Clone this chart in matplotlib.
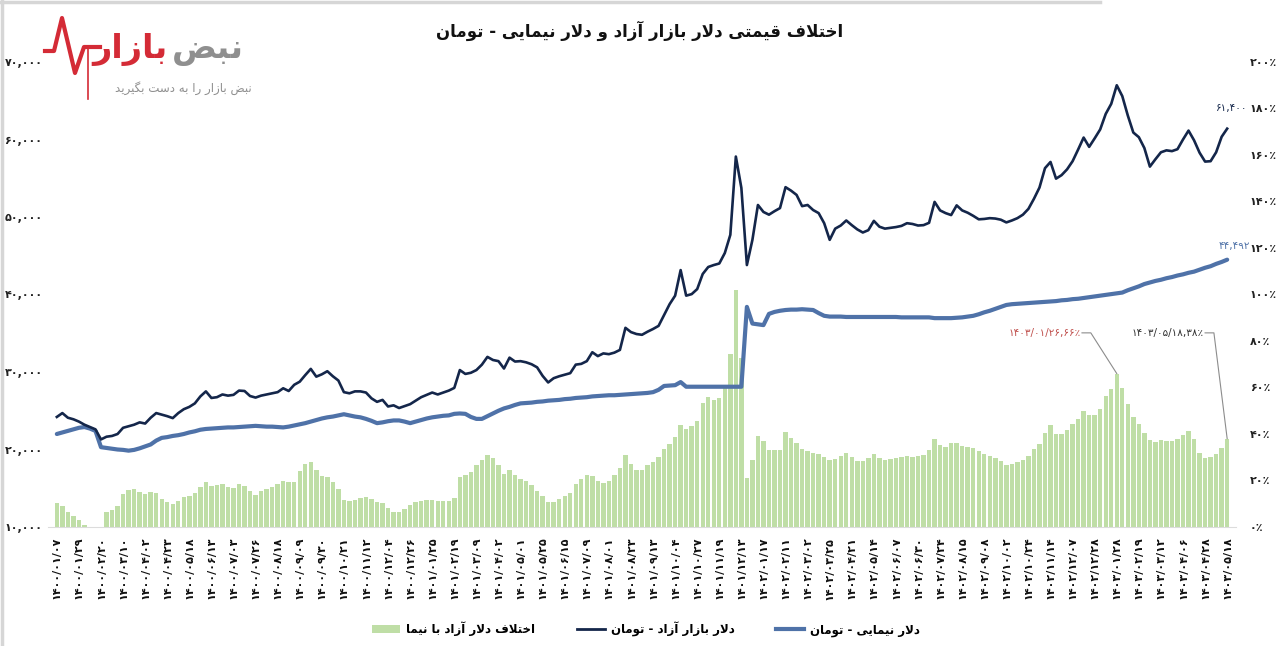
import matplotlib
matplotlib.use("Agg")
import matplotlib.pyplot as plt
import numpy as np
from matplotlib.lines import Line2D
from matplotlib.patches import Patch

# ---- data (toman / percent), one sample every ~1/4 tick ----
free_market = [
    24200, 24700, 24100, 23900, 23600, 23200, 22900, 22600, 21300, 21650,
    21750, 22000, 22800, 23000, 23200, 23500, 23350, 24100, 24700, 24500,
    24300, 24050, 24700, 25200, 25500, 25950, 26850, 27500, 26650, 26750,
    27100, 26950, 27050, 27600, 27550, 26900, 26700, 26950, 27100, 27250,
    27400, 27900, 27550, 28350, 28750, 29600, 30400, 29400, 29700, 30100,
    29450, 28900, 27400, 27250, 27500, 27500, 27350, 26600, 26150, 26400,
    25550, 25700, 25350, 25600, 25850, 26300, 26750, 27050, 27350, 27100,
    27350, 27600, 27950, 30250, 29750, 29900, 30250, 30950, 31950, 31550,
    31400, 30450, 31850, 31350, 31400, 31250, 31000, 30600, 29500, 28650,
    29200, 29450, 29650, 29850, 30950, 31050, 31400, 32550, 32050, 32400,
    32300, 32500, 32850, 35700, 35150, 34900, 34800, 35200, 35550, 35950,
    37350, 38750, 39850, 43150, 39850, 40050, 40700, 42650, 43550, 43800,
    44000, 45350, 47700, 57800, 53750, 43800, 47050, 51550, 50650, 50300,
    50750, 51150, 53850, 53400, 52850, 51400, 51550, 50900, 50500, 49200,
    47050, 48500, 48900, 49550, 48950, 48400, 48000, 48300, 49500, 48750,
    48500, 48600, 48700, 48850, 49200, 49100, 48900, 48950, 49250, 51950,
    50850, 50500, 50250, 51500, 50850, 50550, 50150, 49700, 49750, 49850,
    49800, 49650, 49300, 49550, 49850, 50300, 51050, 52350, 53800, 56300,
    57100, 54950, 55400, 56150, 57200, 58700, 60250, 59050, 60150, 61300,
    63300, 64600, 67000, 65600, 63100, 60900, 60300, 58900, 56500, 57450,
    58350, 58600, 58500, 58750, 60000, 61150, 59900, 58300, 57150, 57200,
    58350, 60350, 61400,
]

nimai = [
    22000, 22200, 22400, 22600, 22800, 22900, 22700, 22400, 20300, 20200,
    20100, 20000, 19950, 19850, 19950, 20150, 20400, 20650, 21150, 21500,
    21600, 21750, 21850, 22000, 22200, 22350, 22550, 22650, 22700, 22750,
    22800, 22850, 22850, 22900, 22950, 23000, 23050, 23000, 22950, 22950,
    22900, 22850, 22950, 23100, 23250, 23400, 23600, 23800, 24000, 24150,
    24250, 24400, 24550, 24400, 24250, 24150, 23950, 23700, 23400, 23500,
    23650, 23750, 23750, 23600, 23400, 23600, 23800, 24000, 24150, 24250,
    24350, 24400, 24600, 24650, 24600, 24200, 23950, 23950, 24300, 24650,
    25000, 25300, 25500, 25750, 25950, 26000, 26050, 26150, 26200, 26300,
    26350, 26400, 26500, 26550, 26650, 26700, 26750, 26850, 26900, 26950,
    27000, 27000, 27050, 27100, 27150, 27200, 27250, 27300, 27400, 27700,
    28200, 28250, 28300, 28700, 28100, 28100, 28100, 28100, 28100, 28100,
    28100, 28100, 28100, 28100, 28100, 38400, 36250, 36150, 36050, 37500,
    37750, 37900, 38000, 38050, 38050, 38100, 38050, 38000, 37600, 37250,
    37150, 37150, 37150, 37100, 37100, 37100, 37100, 37100, 37100, 37100,
    37100, 37100, 37100, 37050, 37050, 37050, 37050, 37050, 37050, 36950,
    36950, 36950, 36950, 37000, 37050, 37150, 37250, 37450, 37700, 37900,
    38150, 38400, 38650, 38750, 38800, 38850, 38900, 38950, 39000, 39050,
    39100, 39150, 39250, 39300, 39400, 39450, 39550, 39650, 39750, 39850,
    39950, 40050, 40150, 40250, 40550, 40800, 41050, 41350, 41550, 41750,
    41900, 42100, 42250, 42450, 42600, 42800, 42950, 43200, 43450, 43650,
    43950, 44200, 44492,
]

gap_pct = [
    10.5, 9.0, 6.6, 4.8, 2.8, 0.8, 0.2, 0.2, 0.2, 6.3,
    7.2, 9.0, 14.3, 15.8, 16.2, 15.0, 14.0, 15.0, 14.5, 12.0,
    10.8, 9.8, 11.0, 12.8, 13.4, 14.5, 17.3, 19.3, 17.5, 18.0,
    18.3, 17.2, 16.7, 18.6, 17.8, 15.5, 13.8, 15.3, 16.2, 17.3,
    18.5, 19.8, 19.5, 19.5, 24.3, 27.0, 28.0, 24.7, 22.0, 21.3,
    19.5, 16.5, 11.6, 11.0, 11.8, 12.4, 12.8, 12.0, 10.8, 10.3,
    8.0, 6.5, 6.5, 7.6, 9.5, 10.8, 11.2, 11.5, 11.5, 11.2,
    11.0, 11.3, 12.5, 21.5, 22.5, 23.8, 26.5, 29.0, 31.0, 29.5,
    26.5, 23.0, 24.5, 22.3, 20.7, 19.6, 18.2, 15.6, 13.2, 10.8,
    10.8, 12.0, 13.4, 14.7, 18.3, 20.8, 22.4, 22.0, 20.0, 18.8,
    20.0, 22.3, 25.5, 31.0, 27.0, 24.5, 24.5, 26.5, 28.0, 30.0,
    33.5, 35.9, 38.8, 44.0, 42.3, 43.5, 45.5, 53.5, 55.7, 54.5,
    55.5, 61.0, 74.5, 102.0, 72.5, 21.0, 29.0, 39.0, 37.0, 33.1,
    33.1, 33.1, 41.0, 38.3, 36.0, 33.6, 32.6, 32.0, 31.2, 30.0,
    28.8, 29.4, 30.5, 31.7, 30.0, 28.6, 28.5, 29.5, 31.5, 29.6,
    29.0, 29.2, 29.8, 30.3, 30.5, 30.2, 30.4, 31.0, 33.0, 37.8,
    35.3, 34.6, 36.0, 36.2, 35.0, 34.4, 33.8, 32.7, 31.5, 30.6,
    29.8, 28.5, 26.8, 27.3, 27.8, 28.7, 30.5, 33.4, 35.8, 40.5,
    44.0, 40.0, 40.2, 41.8, 44.4, 46.6, 50.0, 48.2, 48.0, 50.6,
    56.5, 59.4, 66.0, 60.0, 53.0, 47.5, 44.5, 40.5, 37.5, 36.4,
    37.3, 36.8, 37.2, 37.9, 39.5, 41.5, 38.0, 32.0, 29.8, 30.0,
    31.2, 34.0, 38.0,
]

# one date label every 4 samples
date_labels = [
    "۱۴۰۰/۰۱/۰۷", "۱۴۰۰/۰۱/۲۹", "۱۴۰۰/۰۲/۲۰", "۱۴۰۰/۰۳/۱۰", "۱۴۰۰/۰۴/۰۲",
    "۱۴۰۰/۰۴/۲۳", "۱۴۰۰/۰۵/۱۸", "۱۴۰۰/۰۶/۱۳", "۱۴۰۰/۰۷/۰۳", "۱۴۰۰/۰۷/۲۶",
    "۱۴۰۰/۰۸/۱۸", "۱۴۰۰/۰۹/۰۹", "۱۴۰۰/۰۹/۳۰", "۱۴۰۰/۱۰/۲۱", "۱۴۰۰/۱۱/۱۲",
    "۱۴۰۰/۱۲/۰۴", "۱۴۰۰/۱۲/۲۶", "۱۴۰۱/۰۱/۲۵", "۱۴۰۱/۰۲/۱۹", "۱۴۰۱/۰۳/۰۹",
    "۱۴۰۱/۰۴/۰۲", "۱۴۰۱/۰۵/۰۱", "۱۴۰۱/۰۵/۲۵", "۱۴۰۱/۰۶/۱۵", "۱۴۰۱/۰۷/۰۹",
    "۱۴۰۱/۰۸/۰۱", "۱۴۰۱/۰۸/۲۳", "۱۴۰۱/۰۹/۱۳", "۱۴۰۱/۱۰/۰۴", "۱۴۰۱/۱۰/۲۷",
    "۱۴۰۱/۱۱/۱۹", "۱۴۰۱/۱۲/۱۳", "۱۴۰۲/۰۱/۱۷", "۱۴۰۲/۰۲/۱۱", "۱۴۰۲/۰۳/۰۲",
    "۱۴۰۲/۰۳/۲۵", "۱۴۰۲/۰۴/۲۱", "۱۴۰۲/۰۵/۱۴", "۱۴۰۲/۰۶/۰۷", "۱۴۰۲/۰۶/۳۰",
    "۱۴۰۲/۰۷/۲۴", "۱۴۰۲/۰۸/۱۵", "۱۴۰۲/۰۹/۰۸", "۱۴۰۲/۱۰/۰۲", "۱۴۰۲/۱۰/۲۴",
    "۱۴۰۲/۱۱/۱۴", "۱۴۰۲/۱۲/۰۷", "۱۴۰۲/۱۲/۲۸", "۱۴۰۳/۰۱/۲۸", "۱۴۰۳/۰۲/۱۹",
    "۱۴۰۳/۰۳/۱۲", "۱۴۰۳/۰۴/۰۶", "۱۴۰۳/۰۴/۲۸", "۱۴۰۳/۰۵/۱۸",
]

left_ticks = [10000, 20000, 30000, 40000, 50000, 60000, 70000]
left_labels = ["۱۰,۰۰۰", "۲۰,۰۰۰", "۳۰,۰۰۰", "۴۰,۰۰۰", "۵۰,۰۰۰", "۶۰,۰۰۰", "۷۰,۰۰۰"]
right_ticks = [0, 20, 40, 60, 80, 100, 120, 140, 160, 180, 200]
right_labels = ["۰٪", "۲۰٪", "۴۰٪", "۶۰٪", "۸۰٪", "۱۰۰٪", "۱۲۰٪", "۱۴۰٪", "۱۶۰٪", "۱۸۰٪", "۲۰۰٪"]

title = "اختلاف قیمتی دلار بازار آزاد و دلار نیمایی - تومان"
legend_labels = ["اختلاف دلار آزاد با نیما", "دلار بازار آزاد - تومان", "دلار نیمایی - تومان"]
# (sample index, label) for the two call-outs on the bars
callouts = [(192, "۱۴۰۳/۰۱/۲۶,۶۶٪"), (212, "۱۴۰۳/۰۵/۱۸,۳۸٪")]
free_last_label = "۶۱,۴۰۰"
nimai_last_label = "۴۴,۴۹۲"

assert len(free_market) == len(nimai) == len(gap_pct) == 4 * (len(date_labels) - 1) + 1

# ---- minimal Persian shaping (matplotlib has no bidi / joining) ----
FORMS = {
    "ا": ("\ufe8d", "\ufe8e", None, None),
    "آ": ("\ufe81", "\ufe82", None, None),
    "ب": ("\ufe8f", "\ufe90", "\ufe91", "\ufe92"),
    "ت": ("\ufe95", "\ufe96", "\ufe97", "\ufe98"),
    "خ": ("\ufea5", "\ufea6", "\ufea7", "\ufea8"),
    "د": ("\ufea9", "\ufeaa", None, None),
    "ر": ("\ufead", "\ufeae", None, None),
    "ز": ("\ufeaf", "\ufeb0", None, None),
    "س": ("\ufeb1", "\ufeb2", "\ufeb3", "\ufeb4"),
    "ض": ("\ufebd", "\ufebe", "\ufebf", "\ufec0"),
    "ف": ("\ufed1", "\ufed2", "\ufed3", "\ufed4"),
    "ق": ("\ufed5", "\ufed6", "\ufed7", "\ufed8"),
    "گ": ("\ufb92", "\ufb93", "\ufb94", "\ufb95"),
    "ل": ("\ufedd", "\ufede", "\ufedf", "\ufee0"),
    "م": ("\ufee1", "\ufee2", "\ufee3", "\ufee4"),
    "ن": ("\ufee5", "\ufee6", "\ufee7", "\ufee8"),
    "ه": ("\ufee9", "\ufeea", "\ufeeb", "\ufeec"),
    "و": ("\ufeed", "\ufeee", None, None),
    "ی": ("\ufeef", "\ufef0", "\ufef3", "\ufef4"),
    "ي": ("\ufeef", "\ufef0", "\ufef3", "\ufef4"),
}
LAM_ALEF = {"ا": ("\ufefb", "\ufefc"), "آ": ("\ufef5", "\ufef6")}


def fa(text):
    out = []
    joined = False
    i = 0
    while i < len(text):
        c = text[i]
        nxt = text[i + 1] if i + 1 < len(text) else ""
        if c == "ل" and nxt in LAM_ALEF:
            out.append(LAM_ALEF[nxt][1 if joined else 0])
            joined = False
            i += 2
            continue
        if c not in FORMS:
            out.append(c)
            joined = False
            i += 1
            continue
        iso, fin, ini, med = FORMS[c]
        links = ini is not None and nxt in FORMS
        if joined:
            out.append(med if links else fin)
        else:
            out.append(ini if links else iso)
        joined = links
        i += 1
    return "".join(reversed(out))


# ---- figure ----
NAVY = "#14264a"
STEEL = "#4f72a8"
GREEN = "#bfdea6"
RED = "#c0504d"

W, H = 1276, 646
fig = plt.figure(figsize=(W / 100, H / 100), dpi=100)
ax = fig.add_axes([48 / W, 1 - 527 / H, (1236 - 48) / W, (527 - 62) / H])
ax2 = ax.twinx()
ax.set_zorder(ax2.get_zorder() + 1)
ax.patch.set_visible(False)

x = np.arange(len(free_market))
ax2.bar(x, gap_pct, width=0.8, color=GREEN, linewidth=0)
ax.plot(x, nimai, color=STEEL, lw=3.0, solid_capstyle="round", solid_joinstyle="round")
ax.plot(x, free_market, color=NAVY, lw=1.9, solid_joinstyle="round")

ax.set_xlim(-1.6, x[-1] + 1.6)
ax.set_ylim(10000, 70000)
ax2.set_ylim(0, 200)

ax.set_xticks(x[::4])
ax.set_xticklabels(date_labels, rotation=90, fontsize=8, fontweight="bold", color="#111")
ax.set_yticks(left_ticks)
ax.set_yticklabels(left_labels, fontsize=8, fontweight="bold", color="#222")
ax2.set_yticks(right_ticks)
ax2.set_yticklabels(right_labels, fontsize=8, fontweight="bold", color="#222")
ax.tick_params(axis="x", length=0, pad=7)
ax.tick_params(axis="y", length=0, pad=4)
ax2.tick_params(axis="y", length=0, pad=10)

for a in (ax, ax2):
    for s in a.spines.values():
        s.set_visible(False)
ax2.spines["bottom"].set_visible(True)
ax2.spines["bottom"].set_color("#dcdcdc")

# end-of-line values
ax.annotate(free_last_label, xy=(x[-1], free_market[-1]), xytext=(3, 15),
            textcoords="offset points", ha="center", va="center",
            fontsize=7.5, color=NAVY)
ax.annotate(nimai_last_label, xy=(x[-1], nimai[-1]), xytext=(5, 10),
            textcoords="offset points", ha="center", va="center",
            fontsize=7.5, color=STEEL)

# call-outs on the bars
for (idx, txt), col, d in zip(callouts, [RED, "#333333"], [4.7, 2.4]):
    ax2.plot([idx - d - 1.6, idx - d, idx], [83.5, 83.5, gap_pct[idx]],
             color="#8c8c8c", lw=0.8, zorder=3)
    ax2.text(idx - d - 1.9, 83.5, txt, ha="right", va="center",
             fontsize=7.5, color=col)

fig.text(640 / W, 1 - 31 / H, fa(title), ha="center", va="center",
         fontsize=12, fontweight="bold", color="#111")

handles = [Patch(facecolor=GREEN, edgecolor="none"),
           Line2D([], [], color=NAVY, lw=2),
           Line2D([], [], color=STEEL, lw=3)]
fig.legend(handles, [fa(t) for t in legend_labels], ncol=3, loc="center",
           bbox_to_anchor=(646 / W, 1 - 629 / H), frameon=False,
           prop={"size": 8.5, "weight": "bold"}, handlelength=2.4,
           columnspacing=3.5, handletextpad=0.5)

# logo in the top-left corner
pulse_x = np.array([45, 54, 62, 75, 84, 100])
pulse_y = np.array([51, 51, 18, 73, 47, 47])
fig.add_artist(Line2D(pulse_x / W, 1 - pulse_y / H, color="#d42b36", lw=3,
                      transform=fig.transFigure))
fig.add_artist(Line2D([88 / W, 88 / W], [1 - 47 / H, 1 - 99 / H], color="#d42b36",
                      lw=1.2, transform=fig.transFigure))
fig.text(168 / W, 1 - 50 / H, fa("بازار"), ha="right", va="center",
         fontsize=24, fontweight="bold", color="#d42b36")
fig.text(172 / W, 1 - 50 / H, fa("نبض"), ha="left", va="center",
         fontsize=24, fontweight="bold", color="#8f8f8f")
fig.text(252 / W, 1 - 88 / H, fa("نبض بازار را به دست بگیرید"), ha="right",
         va="center", fontsize=8.5, color="#8f8f8f")

# thin frame lines of the source image
fig.add_artist(Line2D([0, 1100 / W], [1 - 1.5 / H, 1 - 1.5 / H], color="#d6d6d6",
                      lw=2.5, transform=fig.transFigure))
fig.add_artist(Line2D([1.5 / W, 1.5 / W], [0, 1], color="#d6d6d6", lw=2.5,
                      transform=fig.transFigure))

fig.savefig("out.png", dpi=100)
